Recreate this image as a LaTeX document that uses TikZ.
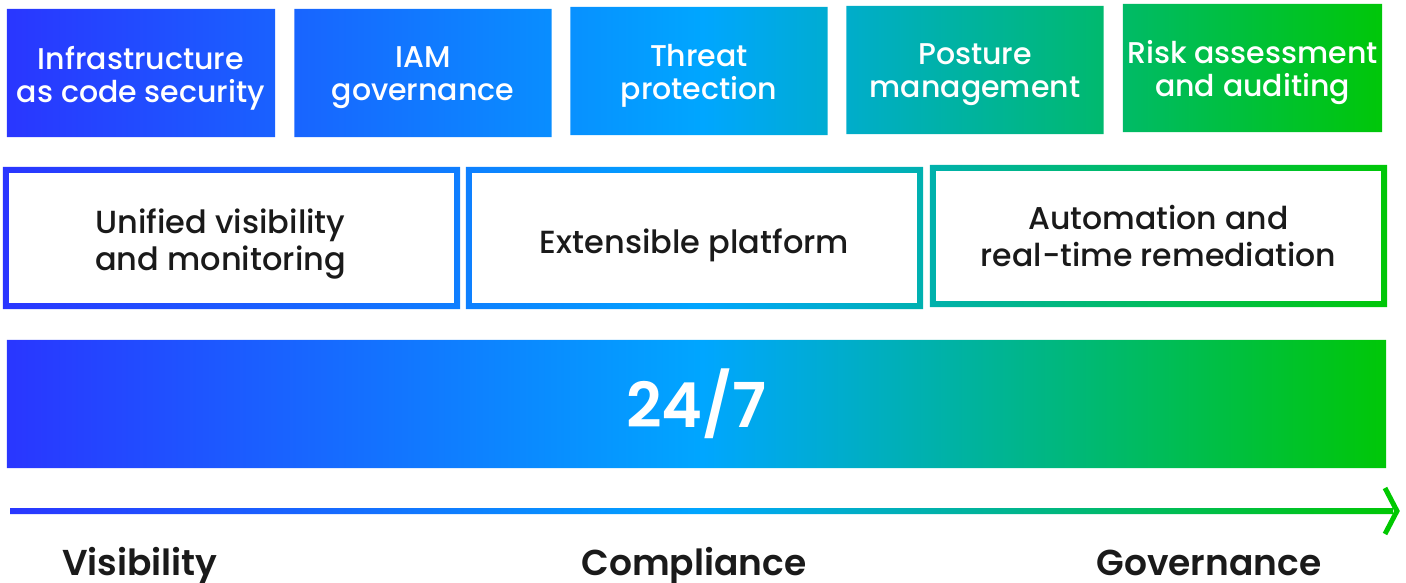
\documentclass[tikz,border=0pt]{standalone}
\usepackage{fontspec}
\setmainfont{Poppins}[UprightFont={* Medium}, BoldFont={* SemiBold}]
\usetikzlibrary{positioning,backgrounds}
\definecolor{kblue}{RGB}{42,53,255}
\definecolor{kcyan}{RGB}{0,166,255}
\definecolor{kgreen}{RGB}{0,200,0}
\definecolor{ktext}{RGB}{26,26,26}

\begin{document}
\begin{tikzpicture}[x=1pt, y=-1pt,
  every node/.style={inner sep=0pt, align=center},
  tile/.style={minimum width=257pt, minimum height=128pt},
  tiletext/.style={text=white, font=\fontsize{30}{33}\selectfont},
  frame/.style={minimum width=457pt, minimum height=142pt},
  frametext/.style={text=ktext, font=\fontsize{32}{37}\selectfont},
  axislabel/.style={anchor=base, text=ktext, font=\bfseries\fontsize{36}{40}\selectfont},
  grad/.style={left color=kblue, right color=kgreen, middle color=kcyan}
]
\useasboundingbox (0,0) rectangle (1406,583);

% Top row - capability tiles
\node[tile, minimum width=268pt] (iac) at (141,73) {};
\node[tile] (iam) at (423,73) {};
\node[tile] (threat) at (699,71) {};
\node[tile] (posture) at (975,70) {};
\node[tile, minimum width=259pt] (risk) at (1252.5,68) {};

\node[tiletext] (iactext) at ([shift={(0,5)}]iac) {Infrastructure\\as code security};
\node[tiletext] (iamtext) at ([shift={(0,5)}]iam) {IAM\\governance};
\node[tiletext] (threattext) at ([shift={(0,5)}]threat) {Threat\\protection};
\node[tiletext] (posturetext) at ([shift={(0,5)}]posture) {Posture\\management};
\node[tiletext] (risktext) at ([shift={(0,5)}]risk) {Risk assessment\\and auditing};

% Middle row - framed pillars
\node[frame] (unified) at (231.5,238) {};
\node[frame] (extensible) at (694.5,238) {};
\node[frame] (automation) at (1158.5,236) {};

\node[frametext] (unifiedtext) at ([shift={(-11,6)}]unified) {Unified visibility\\and monitoring};
\node[frametext] (extensibletext) at ([shift={(0,7)}]extensible) {Extensible platform};
\node[frametext, font=\fontsize{31.5}{37}\selectfont] (automationtext) at (automation) {Automation and\\real-time remediation};

% Round-the-clock bar
\node[minimum width=1379pt, minimum height=128pt, text=white,
      font=\bfseries\fontsize{62}{70}\selectfont] (allday) at (696.5,404) {24/7};

% Axis
\coordinate (axstart) at (10,511);
\coordinate (axend) at (1397,511);

% Axis labels
\node[axislabel] (visibility) at (140,575) {Visibility};
\node[axislabel] (compliance) at (694,575) {Compliance};
\node[axislabel] (governance) at (1209,575) {Governance};

% Gradient fills behind the nodes
\begin{scope}[on background layer]
  \begin{scope}
    \clip (iac.north west) rectangle (iac.south east)
          (iam.north west) rectangle (iam.south east)
          (threat.north west) rectangle (threat.south east)
          (posture.north west) rectangle (posture.south east)
          (risk.north west) rectangle (risk.south east)
          (unified.north west) rectangle (unified.south east)
          (extensible.north west) rectangle (extensible.south east)
          (automation.north west) rectangle (automation.south east)
          (allday.north west) rectangle (allday.south east)
          ([shift={(0,-3)}]axstart) rectangle ([shift={(-4,3)}]axend);
    \shade[grad] (0,0) rectangle (1406,583);
  \end{scope}
  \fill[white] ([shift={(6,6)}]unified.north west) rectangle ([shift={(-6,-6)}]unified.south east);
  \fill[white] ([shift={(6,6)}]extensible.north west) rectangle ([shift={(-6,-6)}]extensible.south east);
  \fill[white] ([shift={(6,6)}]automation.north west) rectangle ([shift={(-6,-6)}]automation.south east);
\end{scope}

% Arrow head
\draw[kgreen, line width=5pt, line join=miter]
  ([shift={(-12,-23)}]axend) -- (axend) -- ([shift={(-12,23)}]axend);

\end{tikzpicture}
\end{document}
